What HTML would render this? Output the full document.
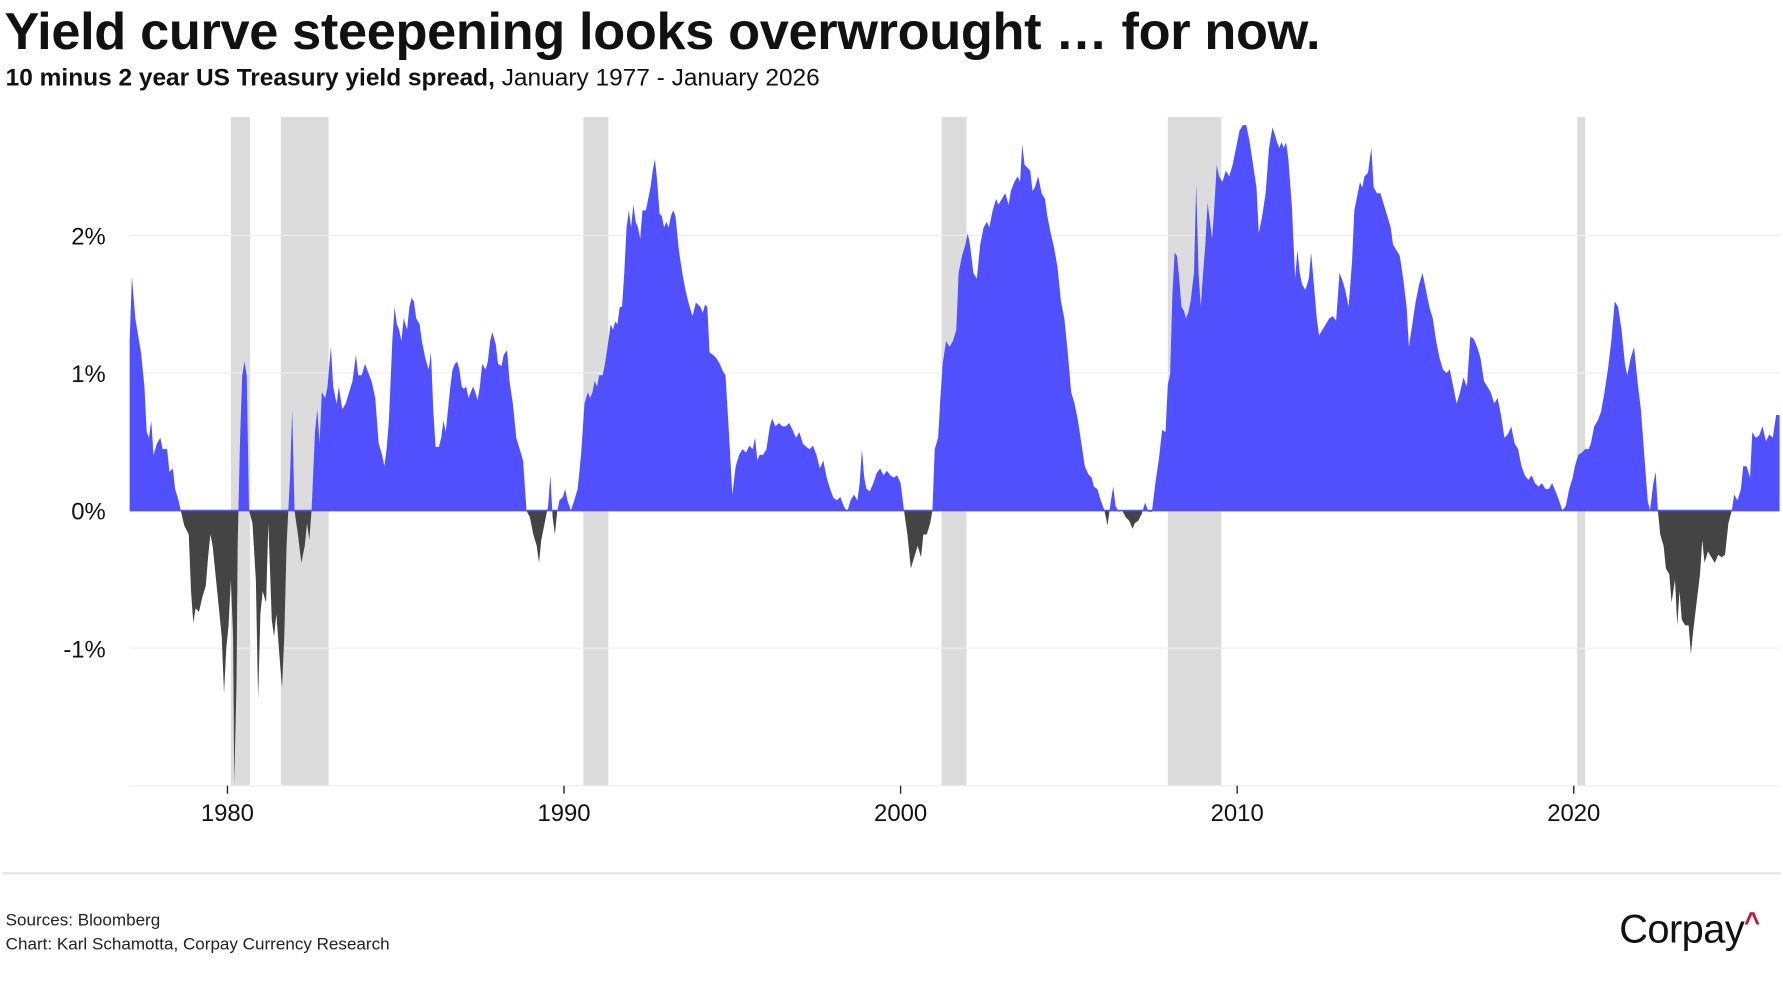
<!DOCTYPE html>
<html><head><meta charset="utf-8"><style>
html,body{margin:0;padding:0;background:#fff;width:1783px;height:1000px;overflow:hidden}
#w{width:1568px;height:880px;transform:scale(1.13712);transform-origin:0 0;position:relative;font-family:"Liberation Sans",sans-serif;color:#111}
.t{position:absolute;left:4px;top:0px;font-size:46px;font-weight:bold;letter-spacing:-0.3px}
.s{position:absolute;left:5px;top:56px;font-size:21.5px}
.f{position:absolute;left:5px;font-size:15px;color:#222}
.logo{position:absolute;left:1424px;top:798px;font-size:35px;letter-spacing:-0.5px}
</style></head><body><div id="w">
<div class="t">Yield curve steepening looks overwrought … for now.</div>
<div class="s"><b>10 minus 2 year US Treasury yield spread,</b> January 1977 - January 2026</div>
<svg width="1568" height="880" style="position:absolute;left:0;top:0" font-family="Liberation Sans, sans-serif">
<defs>
<clipPath id="up"><rect x="0" y="0" width="1568" height="449"/></clipPath>
<clipPath id="dn"><rect x="0" y="449" width="1568" height="400"/></clipPath>
<polygon id="p" points="114,449 114,300 116,243 119,280 124,310 127,340 129,380 131,385 133,370 135,400 138,390 141,385 143,395 147,395 149,415 152,412 154,430 157,440 159,449 162,462 166,470 168,520 170,548 172,535 175,538 178,525 181,515 183,490 185,470 187,480 190,510 193,540 195,560 197,610 199,570 201,550 203,510 205,560 206,690 208,600 209,480 211,390 213,330 215,318 217,330 219,449 222,460 225,510 227,615 229,540 231,520 234,530 236,460 239,545 241,560 243,540 246,580 248,605 250,560 252,480 255,420 257,360 259,449 262,470 265,495 268,480 270,460 272,475 274,449 277,380 279,360 281,390 283,345 286,350 288,340 291,305 293,340 296,355 298,340 301,360 304,355 307,345 310,335 313,312 315,330 318,330 321,320 324,328 327,336 330,350 333,390 336,400 338,410 340,395 342,370 345,300 347,270 349,285 351,290 353,300 355,280 358,290 360,270 362,262 364,265 366,280 369,285 371,300 374,315 377,325 379,310 381,360 383,393 386,393 388,385 390,370 392,380 394,360 396,340 398,325 400,320 402,318 404,325 406,340 408,342 410,340 412,350 414,345 416,340 418,345 420,352 422,340 424,320 427,325 429,318 431,300 433,292 436,303 438,320 441,322 443,312 446,308 448,335 451,355 454,385 457,395 460,405 463,449 466,455 469,470 472,480 474,495 476,475 478,465 480,455 482,445 484,418 486,455 488,470 490,450 492,440 495,437 497,430 499,440 502,449 505,440 508,430 511,400 514,355 517,345 519,350 521,345 523,335 525,340 527,330 530,330 532,320 535,300 537,285 539,290 541,283 543,285 545,270 547,270 549,240 551,200 553,185 555,200 557,180 559,195 561,200 563,210 565,185 568,185 570,175 572,165 574,150 576,140 578,160 580,188 582,190 584,200 586,195 588,200 590,190 592,185 594,190 597,220 600,240 603,256 606,268 609,278 612,266 614,268 616,270 618,275 620,268 622,270 624,310 627,312 630,315 633,320 636,327 638,330 641,380 644,435 647,410 650,400 653,395 656,398 659,392 662,395 664,385 666,405 668,400 671,400 674,395 677,375 679,368 682,375 685,372 688,375 691,375 694,372 697,378 700,385 703,380 706,390 709,393 712,395 715,392 718,400 721,412 724,405 727,420 730,430 733,438 736,440 739,437 742,445 745,450 748,440 751,435 754,440 756,425 758,395 760,420 762,430 765,432 768,425 771,416 774,412 777,418 780,414 783,418 786,420 789,418 792,425 795,449 798,470 801,500 804,490 807,480 810,490 812,470 815,470 818,460 820,449 822,395 825,385 827,350 829,320 832,300 835,305 838,300 841,290 843,240 846,225 849,215 851,205 853,215 856,240 859,245 862,215 865,200 868,195 870,200 873,185 876,175 878,180 881,175 884,170 887,180 889,168 892,160 895,155 897,160 899,127 901,145 904,148 906,150 908,168 910,165 913,155 916,170 919,175 921,190 924,205 927,218 930,235 933,265 936,280 939,310 942,345 945,355 948,370 951,390 954,410 957,417 960,420 962,428 965,430 968,440 971,448 974,462 977,440 979,428 981,445 984,450 987,449 990,455 993,458 996,465 998,460 1001,458 1004,452 1007,442 1010,450 1013,450 1016,425 1019,405 1022,378 1025,380 1027,338 1029,330 1031,260 1033,222 1035,225 1037,245 1039,270 1041,273 1043,280 1045,275 1047,265 1050,240 1052,162 1054,240 1056,270 1058,240 1060,215 1062,178 1064,195 1066,210 1068,180 1070,145 1072,155 1075,160 1078,150 1081,155 1084,145 1087,130 1090,115 1093,110 1096,110 1099,125 1102,145 1105,165 1107,205 1110,190 1113,170 1116,130 1119,112 1121,118 1123,125 1125,130 1127,125 1129,130 1131,125 1133,140 1136,180 1139,245 1141,220 1143,240 1145,250 1148,255 1151,245 1153,222 1155,245 1158,280 1160,295 1163,290 1166,285 1169,280 1172,278 1175,282 1178,240 1181,248 1183,255 1186,270 1189,230 1191,185 1194,170 1196,160 1198,165 1200,155 1203,152 1206,130 1208,165 1211,170 1214,170 1217,180 1220,190 1223,200 1225,215 1228,220 1231,225 1234,245 1237,270 1239,305 1242,285 1245,265 1248,250 1251,240 1254,255 1257,270 1260,280 1263,300 1266,315 1269,325 1272,328 1275,325 1278,340 1281,355 1284,345 1287,332 1290,340 1293,296 1296,298 1299,305 1302,315 1305,335 1308,340 1311,345 1314,355 1317,350 1320,365 1323,385 1326,382 1329,375 1332,390 1335,395 1338,410 1341,418 1344,422 1347,418 1350,425 1353,428 1356,425 1359,430 1362,430 1365,425 1368,432 1371,440 1374,449 1377,445 1380,430 1383,420 1385,410 1388,400 1391,398 1394,395 1397,395 1399,390 1402,375 1405,370 1408,362 1411,345 1414,325 1417,300 1420,265 1423,270 1426,290 1429,320 1431,330 1434,315 1437,305 1440,335 1443,360 1446,400 1449,440 1451,449 1454,425 1456,415 1458,449 1460,470 1463,480 1465,500 1468,505 1470,530 1473,510 1475,550 1477,520 1479,545 1482,550 1485,550 1487,575 1489,555 1492,530 1495,505 1497,475 1499,495 1502,485 1505,490 1508,495 1511,488 1514,490 1517,488 1520,460 1523,449 1525,435 1528,440 1531,430 1533,410 1536,410 1539,420 1541,380 1544,385 1547,383 1550,375 1553,388 1556,382 1559,385 1562,365 1565,365 1565,449"/>
</defs>
<g fill="#dcdcdc">
<rect x="203" y="103" width="17" height="588"/>
<rect x="247" y="103" width="42" height="588"/>
<rect x="513" y="103" width="22" height="588"/>
<rect x="828" y="103" width="22" height="588"/>
<rect x="1027" y="103" width="47" height="588"/>
<rect x="1387" y="103" width="7" height="588"/>
</g>
<g stroke="#eee" stroke-width="1">
<line x1="114" x2="1565" y1="207" y2="207"/><line x1="114" x2="1565" y1="328" y2="328"/>
<line x1="114" x2="1565" y1="570" y2="570"/><line x1="114" x2="1565" y1="691" y2="691"/>
</g>
<g clip-path="url(#up)"><use href="#p" fill="#5050ff"/></g>
<g clip-path="url(#dn)"><use href="#p" fill="#444"/></g>
<line x1="114" x2="1565" y1="449" y2="449" stroke="#5050ff" stroke-width="1.5"/>
<g font-size="21" text-anchor="end" fill="#111">
<text x="93" y="215">2%</text><text x="93" y="336">1%</text><text x="93" y="457">0%</text><text x="93" y="578">-1%</text>
</g>
<g stroke="#222" stroke-width="1.2">
<line x1="200" x2="200" y1="691" y2="698"/><line x1="496" x2="496" y1="691" y2="698"/><line x1="792" x2="792" y1="691" y2="698"/><line x1="1088" x2="1088" y1="691" y2="698"/><line x1="1384" x2="1384" y1="691" y2="698"/>
</g>
<g font-size="21" text-anchor="middle" fill="#111">
<text x="200" y="722">1980</text><text x="496" y="722">1990</text><text x="792" y="722">2000</text><text x="1088" y="722">2010</text><text x="1384" y="722">2020</text>
</g>
<line x1="2" x2="1566" y1="768" y2="768" stroke="#e4e4e4" stroke-width="2"/>
</svg>
<div class="f" style="top:801px">Sources: Bloomberg</div>
<div class="f" style="top:822px">Chart: Karl Schamotta, Corpay Currency Research</div>
<div class="logo">Corpay<span style="color:#c8143c;font-size:24px;font-weight:bold;vertical-align:top">^</span></div>
</div></body></html>
